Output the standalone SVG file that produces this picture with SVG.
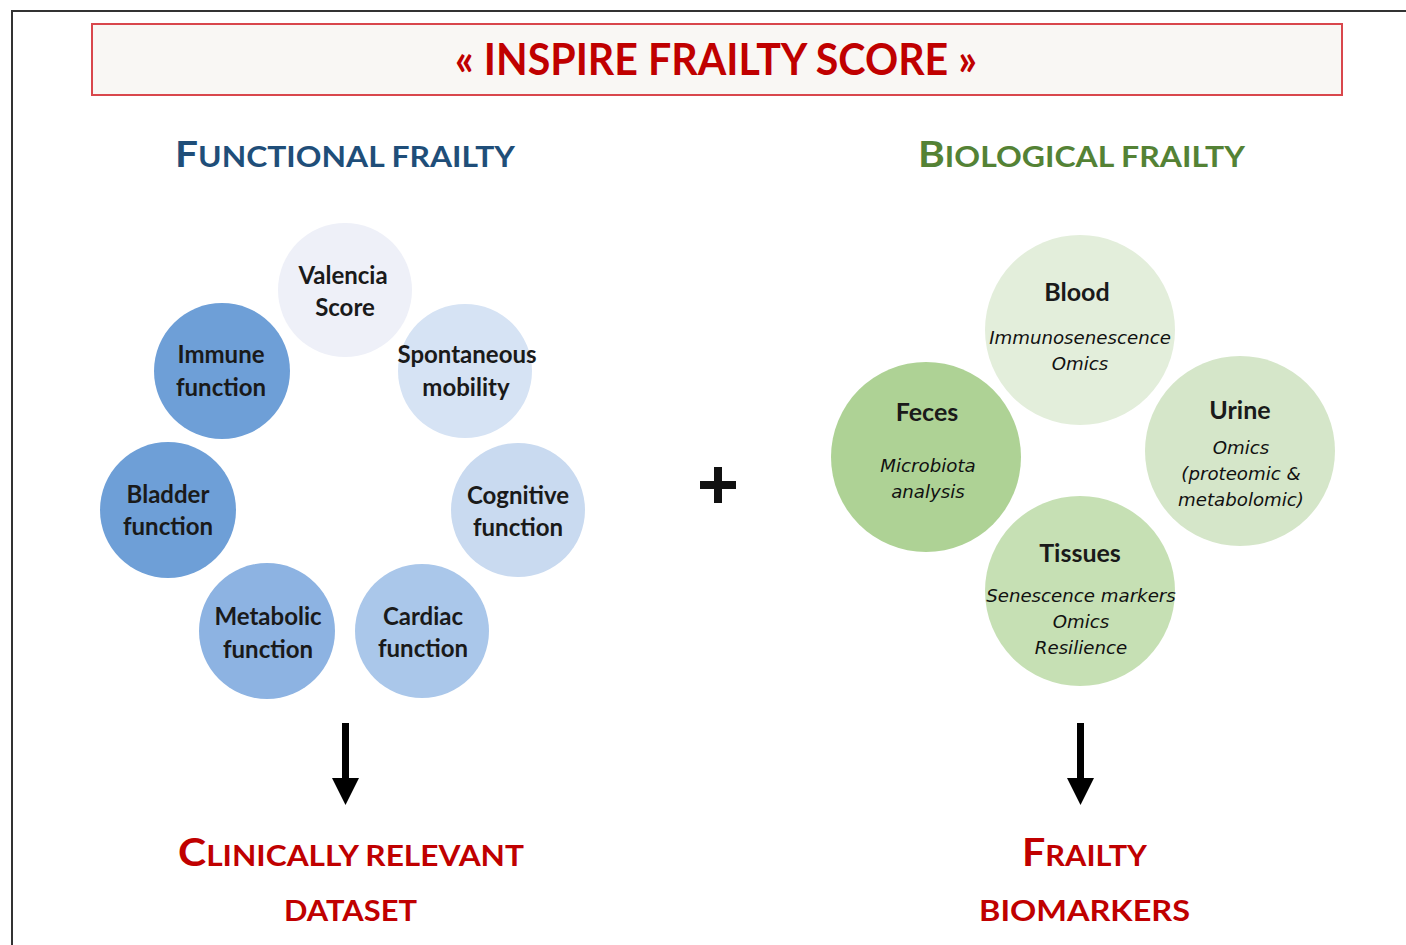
<svg xmlns="http://www.w3.org/2000/svg" width="1406" height="945" viewBox="0 0 1406 945">
<style>
.frame{fill:none;stroke:#333;stroke-width:2}
.tbox{fill:#f9f7f4;stroke:#d9474c;stroke-width:2}
.title{font-family:Lato,"Liberation Sans",sans-serif;font-weight:bold;fill:#c00000;font-size:44px}
.hdr{font-family:Lato,"Liberation Sans",sans-serif;font-weight:bold;font-size:29px}
.blue{fill:#1f4e79}
.green{fill:#548235}
.red{fill:#c00000}
.ct{font-family:Lato,"Liberation Sans",sans-serif;font-weight:bold;font-size:24px;fill:#1a1a1a;text-anchor:middle}
.bt{font-family:Lato,"Liberation Sans",sans-serif;font-weight:bold;font-size:25px;fill:#1a1a1a;text-anchor:middle}
.it{font-family:"DejaVu Sans",sans-serif;font-style:italic;font-size:18.2px;fill:#111;text-anchor:middle}
.arrow{fill:#000}
</style>
<rect x="0" y="0" width="1406" height="945" fill="#fff"/>
<path class="frame" d="M12,945 V11 H1406"/>
<g id="title">
<rect class="tbox" x="92" y="24" width="1250" height="71"/>
<text class="title" x="716" y="75" text-anchor="middle" textLength="522" lengthAdjust="spacingAndGlyphs">« INSPIRE FRAILTY SCORE »</text>
</g>
<g id="header-functional">
<text class="hdr blue" x="175" y="167" textLength="340" lengthAdjust="spacingAndGlyphs"><tspan font-size="37">F</tspan>UNCTIONAL FRAILTY</text>
</g>
<g id="header-biological">
<text class="hdr green" x="918" y="167" textLength="327" lengthAdjust="spacingAndGlyphs"><tspan font-size="37">B</tspan>IOLOGICAL FRAILTY</text>
</g>
<g id="valencia"><circle cx="345" cy="290" r="67" fill="#eef0f8"/><text class="ct" x="343" y="284">Valencia</text><text class="ct" x="345" y="316">Score</text></g>
<g id="immune"><circle cx="222" cy="371" r="68" fill="#6e9fd7"/><text class="ct" x="221" y="363">Immune</text><text class="ct" x="221" y="396">function</text></g>
<g id="spontaneous"><circle cx="465" cy="371" r="67" fill="#d6e3f4"/><text class="ct" x="467" y="363">Spontaneous</text><text class="ct" x="466" y="396">mobility</text></g>
<g id="bladder"><circle cx="168" cy="510" r="68" fill="#6e9fd7"/><text class="ct" x="168" y="503">Bladder</text><text class="ct" x="168" y="535">function</text></g>
<g id="cognitive"><circle cx="518" cy="510" r="67" fill="#c9daf0"/><text class="ct" x="518" y="504">Cognitive</text><text class="ct" x="518" y="536">function</text></g>
<g id="metabolic"><circle cx="267" cy="631" r="68" fill="#8db3e2"/><text class="ct" x="268" y="625">Metabolic</text><text class="ct" x="268" y="658">function</text></g>
<g id="cardiac"><circle cx="422" cy="631" r="67" fill="#aac7ea"/><text class="ct" x="423" y="625">Cardiac</text><text class="ct" x="423" y="657">function</text></g>
<g id="plus"><rect x="700" y="481" width="36" height="8" fill="#111"/><rect x="714" y="467" width="8" height="36" fill="#111"/></g>
<g id="blood"><circle cx="1080" cy="330" r="95" fill="#e3eedb"/><text class="bt" x="1077" y="301">Blood</text><text class="it" x="1080" y="344">Immunosenescence</text><text class="it" x="1080" y="370">Omics</text></g>
<g id="urine"><circle cx="1240" cy="451" r="95" fill="#d5e6c9"/><text class="bt" x="1240" y="419">Urine</text><text class="it" x="1241" y="454">Omics</text><text class="it" x="1241" y="480">(proteomic &amp;</text><text class="it" x="1241" y="506">metabolomic)</text></g>
<g id="feces"><circle cx="926" cy="457" r="95" fill="#aed295"/><text class="bt" x="927" y="421">Feces</text><text class="it" x="928" y="472">Microbiota</text><text class="it" x="928" y="498">analysis</text></g>
<g id="tissues"><circle cx="1080" cy="591" r="95" fill="#c6e0b4"/><text class="bt" x="1080" y="562">Tissues</text><text class="it" x="1081" y="602">Senescence markers</text><text class="it" x="1081" y="628">Omics</text><text class="it" x="1081" y="654">Resilience</text></g>
<g id="connectors">
<path class="arrow" d="M342,723 H349 V778 H359 L345.5,805 L332,778 H342 Z"/>
<path class="arrow" d="M1077,723 H1084 V778 H1094 L1080.5,805 L1067,778 H1077 Z"/>
</g>
<g id="out-clinical">
<text class="hdr red" x="178" y="866" font-size="30" textLength="346" lengthAdjust="spacingAndGlyphs"><tspan font-size="39">C</tspan>LINICALLY RELEVANT</text>
<text class="hdr red" x="284" y="921" font-size="31" textLength="133" lengthAdjust="spacingAndGlyphs">DATASET</text>
</g>
<g id="out-biomarkers">
<text class="hdr red" x="1022" y="866" font-size="30" textLength="125" lengthAdjust="spacingAndGlyphs"><tspan font-size="39">F</tspan>RAILTY</text>
<text class="hdr red" x="979" y="921" font-size="31" textLength="211" lengthAdjust="spacingAndGlyphs">BIOMARKERS</text>
</g>
</svg>
